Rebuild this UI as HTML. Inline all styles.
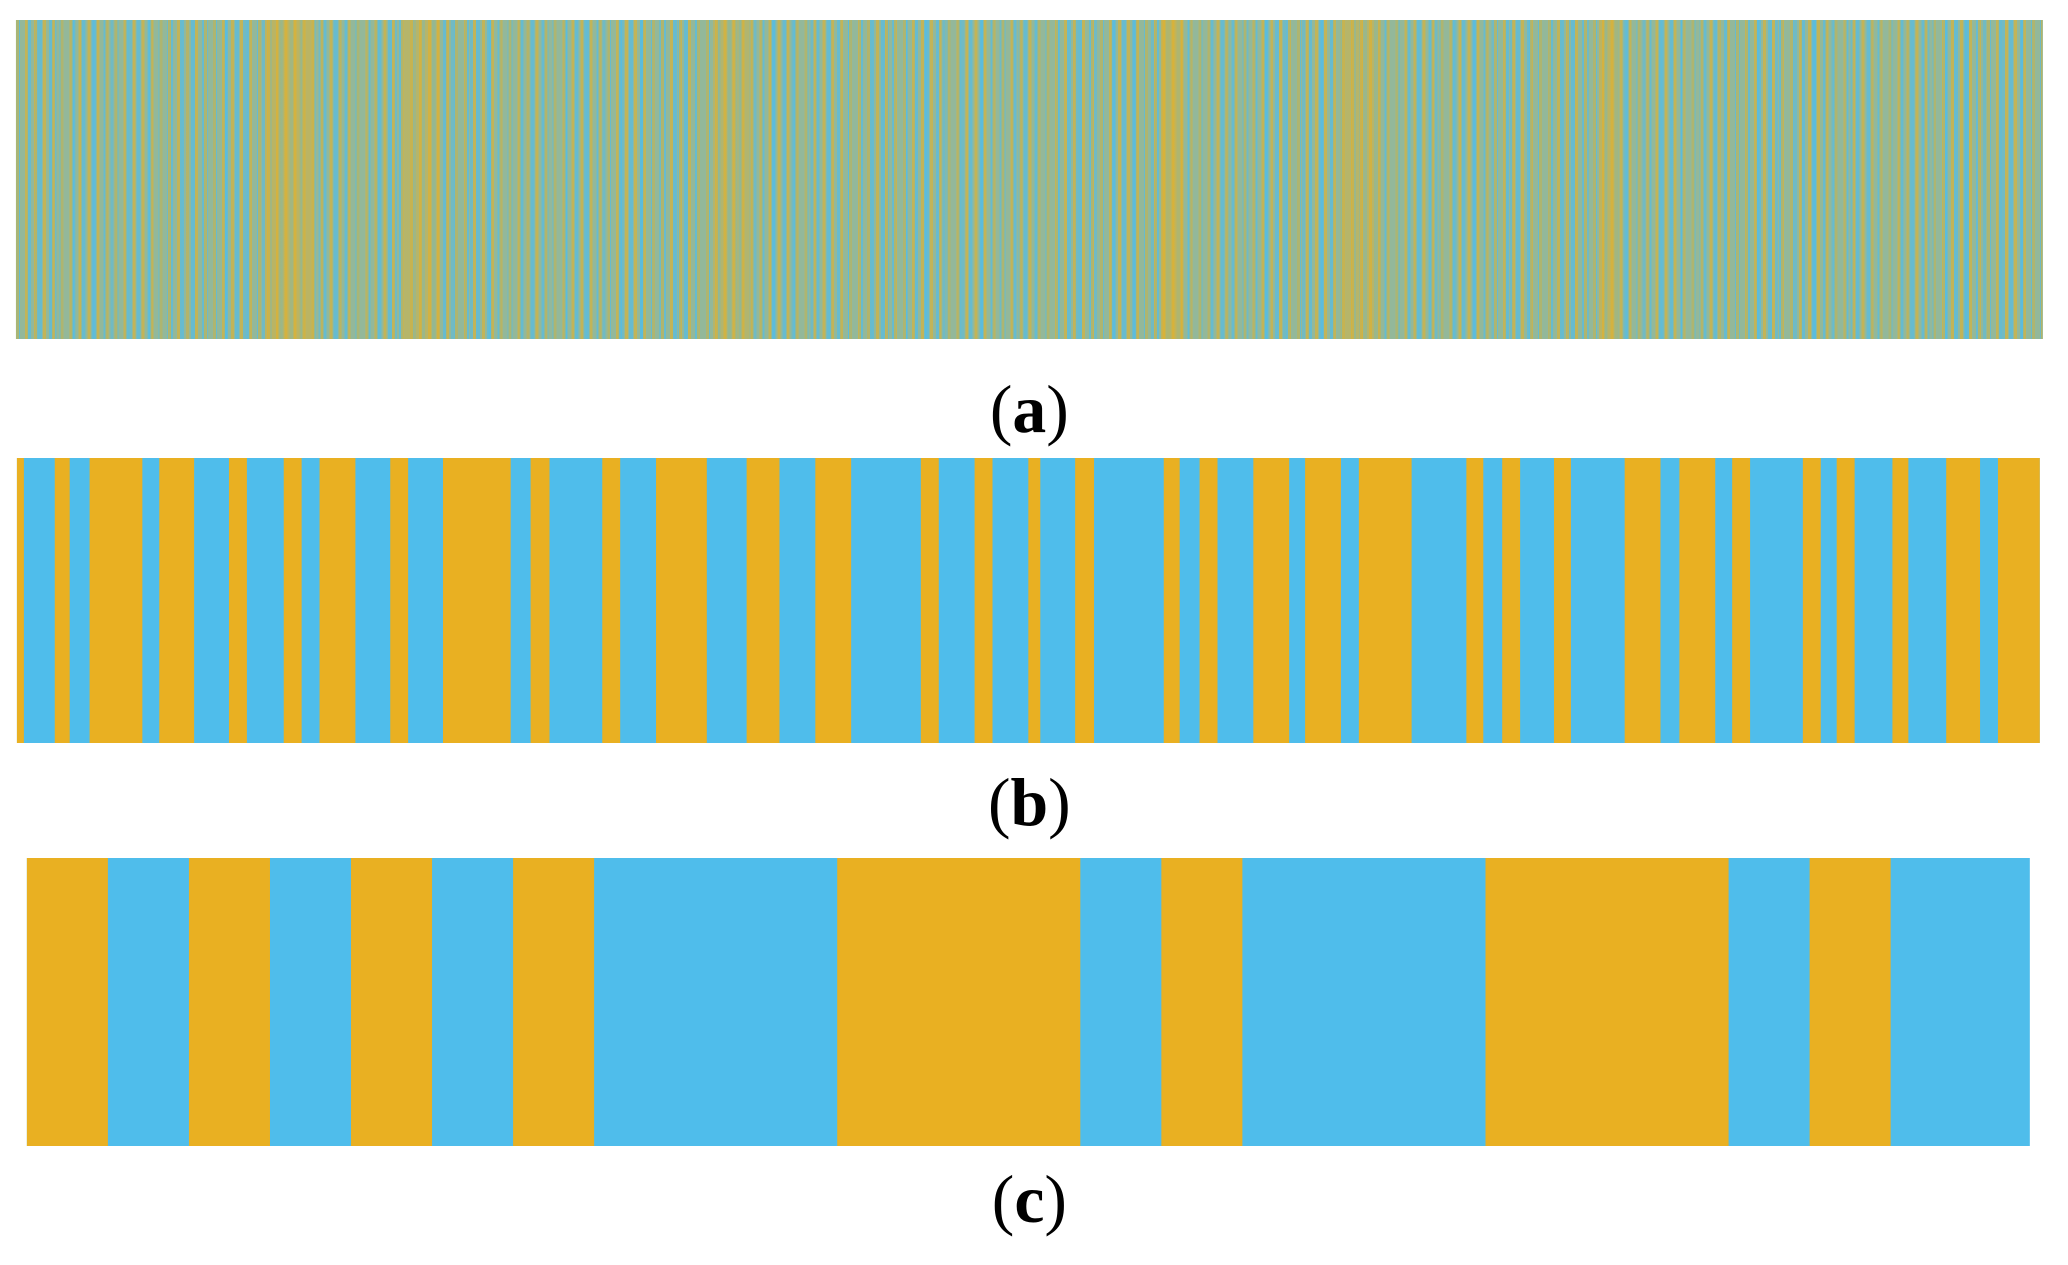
<!DOCTYPE html>
<html><head><style>
body{margin:0;width:2068px;height:1265px;background:#fff;position:relative;overflow:hidden}
#w{position:absolute;left:0;top:0;width:2068px;height:1265px;transform:scaleX(0.9955);transform-origin:0 0}
.lab{position:absolute;left:0;width:2068px;text-align:center;font-family:"Liberation Serif",serif;font-size:68px;line-height:68px;color:#000}
.lab b{font-weight:bold}
#a{position:absolute;left:16px;top:20px;width:2036px;height:319px;
background:
linear-gradient(90deg,transparent 0 250px,rgba(233,176,34,.45) 250px 300px,transparent 300px 390px,rgba(233,176,34,.4) 390px 425px,transparent 425px 700px,rgba(233,176,34,.35) 700px 740px,transparent 740px 1150px,rgba(233,176,34,.55) 1150px 1172px,transparent 1172px 1330px,rgba(233,176,34,.4) 1330px 1370px,transparent 1370px 1590px,rgba(233,176,34,.45) 1590px 1610px,transparent 1610px),
repeating-linear-gradient(90deg,rgba(233,176,34,.55) 0 3px,transparent 3px 9px),
repeating-linear-gradient(90deg,rgba(79,189,235,.65) 0 4px,transparent 4px 11px),
repeating-linear-gradient(90deg,rgba(79,189,235,.5) 0 3px,transparent 3px 19px),
#93b89a;}
</style></head><body>
<div id="w">
<div id="a"></div>
<div class="lab" style="top:375px">(<b>a</b>)</div>
<svg style="position:absolute;left:0;top:0" width="2068" height="1265">
<g fill="#E9B022">
<rect x="17" y="458" width="2032" height="285" fill="#4FBDEB"/>
<rect x="17" y="458" width="7" height="285"/>
<rect x="55" y="458" width="15" height="285"/>
<rect x="90" y="458" width="53" height="285"/>
<rect x="160" y="458" width="35" height="285"/>
<rect x="230" y="458" width="18" height="285"/>
<rect x="285" y="458" width="18" height="285"/>
<rect x="321" y="458" width="36" height="285"/>
<rect x="392" y="458" width="18" height="285"/>
<rect x="445" y="458" width="68" height="285"/>
<rect x="533" y="458" width="19" height="285"/>
<rect x="605" y="458" width="18" height="285"/>
<rect x="659" y="458" width="51" height="285"/>
<rect x="750" y="458" width="33" height="285"/>
<rect x="819" y="458" width="36" height="285"/>
<rect x="925" y="458" width="18" height="285"/>
<rect x="979" y="458" width="18" height="285"/>
<rect x="1033" y="458" width="12" height="285"/>
<rect x="1080" y="458" width="19" height="285"/>
<rect x="1169" y="458" width="16" height="285"/>
<rect x="1205" y="458" width="18" height="285"/>
<rect x="1259" y="458" width="36" height="285"/>
<rect x="1311" y="458" width="36" height="285"/>
<rect x="1365" y="458" width="53" height="285"/>
<rect x="1473" y="458" width="17" height="285"/>
<rect x="1509" y="458" width="18" height="285"/>
<rect x="1561" y="458" width="17" height="285"/>
<rect x="1632" y="458" width="36" height="285"/>
<rect x="1687" y="458" width="36" height="285"/>
<rect x="1740" y="458" width="18" height="285"/>
<rect x="1811" y="458" width="18" height="285"/>
<rect x="1845" y="458" width="18" height="285"/>
<rect x="1901" y="458" width="16" height="285"/>
<rect x="1955" y="458" width="34" height="285"/>
<rect x="2007" y="458" width="42" height="285"/>
</g>
<g fill="#E9B022">
<rect x="27" y="858" width="2012" height="288" fill="#4FBDEB"/>
<rect x="27" y="858" width="81.4" height="288"/>
<rect x="189.8" y="858" width="81.4" height="288"/>
<rect x="352.6" y="858" width="81.4" height="288"/>
<rect x="515.4" y="858" width="81.4" height="288"/>
<rect x="841" y="858" width="244.2" height="288"/>
<rect x="1166.6" y="858" width="81.4" height="288"/>
<rect x="1492.2" y="858" width="244.2" height="288"/>
<rect x="1817.8" y="858" width="81.4" height="288"/>
</g>
</svg>
<div class="lab" style="top:768px">(<b>b</b>)</div>
<div class="lab" style="top:1165px">(<b>c</b>)</div>
</div>
</body></html>
